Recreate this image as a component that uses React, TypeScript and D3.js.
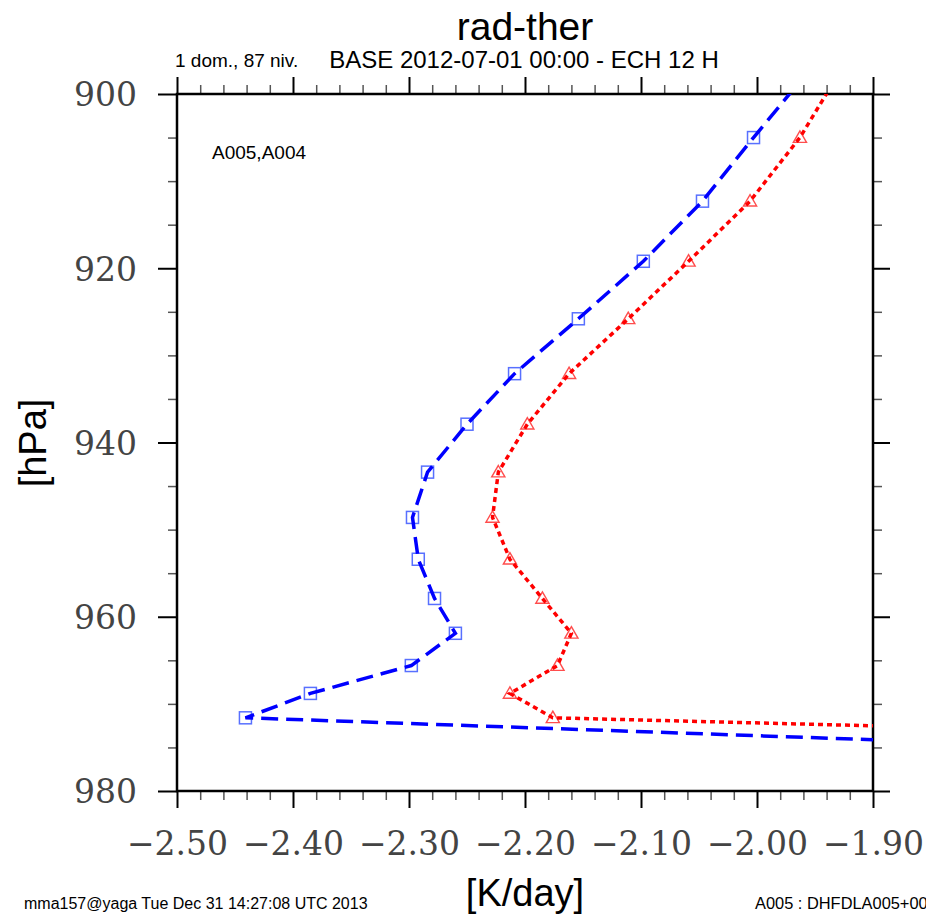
import React, { useEffect, useRef } from 'react';
import * as d3 from 'd3';

// pressure levels (hPa) and heating rates (K/day)
const levels = [897.1, 905.0, 912.3, 919.2, 925.8, 932.1, 937.9, 943.4, 948.6, 953.4, 957.9, 961.9, 965.6, 968.8, 971.6, 975.5];
const a005 = [-1.954, -2.003, -2.047, -2.098, -2.154, -2.209, -2.25, -2.284, -2.297, -2.292, -2.278, -2.26, -2.298, -2.385, -2.441, -1.604];
const a004 = [-1.927, -1.963, -2.006, -2.059, -2.111, -2.162, -2.198, -2.223, -2.228, -2.213, -2.185, -2.16, -2.172, -2.213, -2.176, -1.003];

const xMajor = [-2.5, -2.4, -2.3, -2.2, -2.1, -2.0, -1.9];
const yMajor = [900, 920, 940, 960, 980];

const SANS = '"Liberation Sans", Arial, sans-serif';
const SERIF = '"DejaVu Serif", serif';

function App() {
  const svgRef = useRef(null);

  useEffect(() => {
    const svg = d3.select(svgRef.current);
    svg.selectAll('*').remove();

    const left = 177, right = 873, top = 94, bottom = 791;
    const x = d3.scaleLinear().domain([-2.5, -1.9]).range([left, right]);
    const y = d3.scaleLinear().domain([900, 980]).range([top, bottom]);

    const xMinor = x.ticks(30).filter(t => !xMajor.some(m => Math.abs(m - t) < 1e-6));
    const yMinor = y.ticks(16).filter(t => !yMajor.includes(t));

    svg.append('rect').attr('width', 926).attr('height', 917).attr('fill', '#fff');

    svg.append('defs').append('clipPath').attr('id', 'plot-clip')
      .append('rect')
      .attr('x', left).attr('y', top)
      .attr('width', right - left).attr('height', bottom - top);

    // axes: ticks all point outward
    const styleAxis = (g, col, w) => {
      g.select('.domain').remove();
      g.selectAll('line').attr('stroke', col).attr('stroke-width', w);
    };

    // minor ticks
    svg.append('g').attr('transform', `translate(0,${bottom})`)
      .call(d3.axisBottom(x).tickValues(xMinor).tickSize(9).tickFormat(''))
      .call(g => styleAxis(g, '#555', 1.5));
    svg.append('g').attr('transform', `translate(0,${top})`)
      .call(d3.axisTop(x).tickValues(xMinor).tickSize(9).tickFormat(''))
      .call(g => styleAxis(g, '#555', 1.5));
    svg.append('g').attr('transform', `translate(${left},0)`)
      .call(d3.axisLeft(y).tickValues(yMinor).tickSize(9).tickFormat(''))
      .call(g => styleAxis(g, '#555', 1.5));
    svg.append('g').attr('transform', `translate(${right},0)`)
      .call(d3.axisRight(y).tickValues(yMinor).tickSize(9).tickFormat(''))
      .call(g => styleAxis(g, '#555', 1.5));

    // major ticks
    const xAxis = svg.append('g').attr('transform', `translate(0,${bottom})`)
      .call(d3.axisBottom(x).tickValues(xMajor).tickSize(17).tickFormat(d3.format('.2f')))
      .call(g => styleAxis(g, '#000', 2));
    xAxis.selectAll('text')
      .attr('y', 64).attr('dy', 0)
      .attr('font-family', SERIF).attr('font-size', 33).attr('fill', '#444');

    svg.append('g').attr('transform', `translate(0,${top})`)
      .call(d3.axisTop(x).tickValues(xMajor).tickSize(17).tickFormat(''))
      .call(g => styleAxis(g, '#000', 2));

    const yAxis = svg.append('g').attr('transform', `translate(${left},0)`)
      .call(d3.axisLeft(y).tickValues(yMajor).tickSize(19).tickFormat(d3.format('d')))
      .call(g => styleAxis(g, '#000', 2));
    yAxis.selectAll('text')
      .attr('x', -40).attr('dy', '0.36em')
      .attr('font-family', SERIF).attr('font-size', 33).attr('fill', '#444');

    svg.append('g').attr('transform', `translate(${right},0)`)
      .call(d3.axisRight(y).tickValues(yMajor).tickSize(17).tickFormat(''))
      .call(g => styleAxis(g, '#000', 2));

    // frame
    svg.append('rect')
      .attr('x', left).attr('y', top)
      .attr('width', right - left).attr('height', bottom - top)
      .attr('fill', 'none').attr('stroke', '#000').attr('stroke-width', 2.5);

    const plot = svg.append('g').attr('clip-path', 'url(#plot-clip)');

    const blueData = levels.map((p, i) => ({ p, v: a005[i] }));
    const redData = levels.map((p, i) => ({ p, v: a004[i] }));

    const line = d3.line().x(d => x(d.v)).y(d => y(d.p));

    // markers
    plot.selectAll('.sq').data(blueData).enter().append('rect')
      .attr('x', d => x(d.v) - 6).attr('y', d => y(d.p) - 6)
      .attr('width', 12).attr('height', 12)
      .attr('fill', 'none').attr('stroke', '#2040ff').attr('stroke-opacity', 0.75).attr('stroke-width', 1.5);

    plot.selectAll('.tri').data(redData).enter().append('path')
      .attr('d', d3.symbol(d3.symbolTriangle, 75))
      .attr('transform', d => `translate(${x(d.v)},${y(d.p) + 1})`)
      .attr('fill', 'none').attr('stroke', '#ff2020').attr('stroke-opacity', 0.8).attr('stroke-width', 1.4);

    // profiles
    plot.append('path').datum(blueData)
      .attr('d', line)
      .attr('fill', 'none').attr('stroke', '#0000ff').attr('stroke-width', 3.5)
      .attr('stroke-dasharray', '17,8');

    plot.append('path').datum(redData)
      .attr('d', line)
      .attr('fill', 'none').attr('stroke', '#ff0000').attr('stroke-width', 3.5)
      .attr('stroke-dasharray', '5,4');

    plot.append('text')
      .attr('x', 212).attr('y', 159)
      .attr('font-family', SANS).attr('font-size', 19)
      .text('A005,A004');

    // titles
    svg.append('text')
      .attr('x', (left + right) / 2).attr('y', 40)
      .attr('text-anchor', 'middle')
      .attr('font-family', SANS).attr('font-size', 39)
      .text('rad-ther');

    svg.append('text')
      .attr('x', (left + right) / 2 - 1).attr('y', 68)
      .attr('text-anchor', 'middle')
      .attr('font-family', SANS).attr('font-size', 24)
      .text('BASE 2012-07-01 00:00 - ECH 12 H');

    svg.append('text')
      .attr('x', 175).attr('y', 67)
      .attr('font-family', SANS).attr('font-size', 19)
      .text('1 dom., 87 niv.');

    svg.append('text')
      .attr('x', (left + right) / 2).attr('y', 906)
      .attr('text-anchor', 'middle')
      .attr('font-family', SANS).attr('font-size', 38)
      .text('[K/day]');

    svg.append('text')
      .attr('transform', `translate(46,443) rotate(-90)`)
      .attr('text-anchor', 'middle')
      .attr('font-family', SANS).attr('font-size', 38)
      .text('[hPa]');

    svg.append('text')
      .attr('x', 24).attr('y', 909)
      .attr('font-family', SANS).attr('font-size', 16)
      .text('mma157@yaga Tue Dec 31 14:27:08 UTC 2013');

    svg.append('text')
      .attr('x', 755).attr('y', 909)
      .attr('font-family', SANS).attr('font-size', 16.4)
      .text('A005 : DHFDLA005+001');
  }, []);

  return (
    <svg
      ref={svgRef}
      width={926}
      height={917}
      style={{ position: 'absolute', left: 0, top: 0, display: 'block' }}
    />
  );
}

export default App;
